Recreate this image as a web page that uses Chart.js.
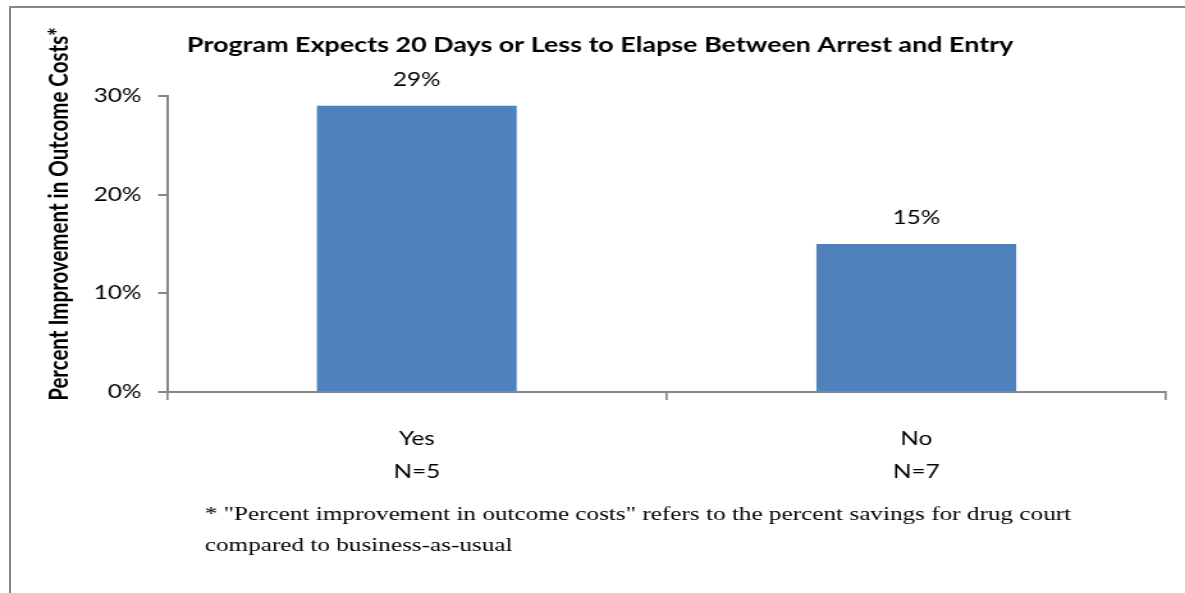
<!DOCTYPE html>
<html>
<head>
<meta charset="utf-8">
<script src="https://cdn.jsdelivr.net/npm/chart.js@4.4.0/dist/chart.umd.min.js"></script>
<style>
  body { margin: 0; background: #fff; overflow: hidden; }
  #frame {
    position: absolute; left: 9px; top: 6px; width: 1300px; height: 700px;
    border-left: 2px solid #878787; border-top: 2px solid #878787;
  }
  /* the original picture is stretched sideways, so is this one */
  #wrap {
    position: absolute; left: 0; top: 0; width: 926px; height: 593px;
    transform: scaleX(1.2797); transform-origin: 0 0;
  }
</style>
</head>
<body>
<div id="frame"></div>
<div id="wrap"><canvas id="grafico"></canvas></div>
<script>
// Datos del grafico
var categorias = ["Yes", "No"];
var muestras = ["N=5", "N=7"];
var valores = [29, 15];
var marcasY = [0, 10, 20, 30];

var titulo = "Program Expects 20 Days or Less to Elapse Between Arrest and Entry";
var tituloY = "Percent Improvement in Outcome Costs*";
var nota = [
  "* \"Percent improvement in outcome costs\" refers to the percent savings for drug court",
  "compared to business-as-usual"
];

var fuente = "Lato, 'Open Sans', sans-serif";
var gris = "#878787";

// Textos extra: titulo, titulo del eje, etiquetas y nota
var textosPlugin = {
  id: "textos",
  afterDraw: function(chart) {
    var ctx = chart.ctx;
    ctx.save();
    ctx.fillStyle = "#000";
    ctx.textAlign = "center";
    ctx.textBaseline = "middle";

    ctx.font = "bold 21px " + fuente;
    ctx.fillText(titulo, 469, 45);

    ctx.save();
    ctx.font = "bold 20.5px " + fuente;
    ctx.translate(46, 214);
    ctx.rotate(-Math.PI / 2);
    ctx.fillText(tituloY, 0, 0);
    ctx.restore();

    ctx.font = "19px " + fuente;
    var meta = chart.getDatasetMeta(0);
    meta.data.forEach(function(barra, i) {
      ctx.fillText(valores[i] + "%", barra.x, barra.y - 26);
    });

    ctx.font = "19.7px 'Liberation Serif', serif";
    ctx.textAlign = "left";
    ctx.fillText(nota[0], 160, 515);
    ctx.fillText(nota[1], 160, 546);
    ctx.restore();
  }
};

var etiquetas = categorias.map(function(c, i) { return [c, muestras[i]]; });

var grafico = new Chart(document.getElementById("grafico"), {
  type: "bar",
  data: {
    labels: etiquetas,
    datasets: [{
      data: valores,
      backgroundColor: "#4f81bd",
      borderWidth: 0,
      barPercentage: 0.4,
      categoryPercentage: 1
    }]
  },
  options: {
    responsive: true,
    maintainAspectRatio: false,
    animation: false,
    layout: { padding: { left: 0, top: 96, right: 14.8, bottom: 0 } },
    plugins: {
      legend: { display: false },
      tooltip: { enabled: false }
    },
    scales: {
      x: {
        grid: { offset: true, drawOnChartArea: false, color: gris, tickLength: 8, lineWidth: 1.7 },
        border: { color: gris, width: 2 },
        ticks: { color: "#000", font: { family: fuente, size: 19, lineHeight: 1.75 }, padding: 22, maxRotation: 0 },
        afterFit: function(scale) { scale.height = 201; }
      },
      y: {
        min: 0,
        max: 30,
        afterBuildTicks: function(scale) {
          scale.ticks = marcasY.map(function(v) { return { value: v }; });
        },
        grid: { drawOnChartArea: false, color: gris, tickLength: 7, lineWidth: 2 },
        border: { color: gris, width: 2 },
        ticks: {
          color: "#000",
          font: { family: fuente, size: 19 },
          padding: 13,
          callback: function(v) { return v + "%"; }
        },
        afterFit: function(scale) { scale.width = 130.5; }
      }
    }
  },
  plugins: [textosPlugin]
});
</script>
</body>
</html>
